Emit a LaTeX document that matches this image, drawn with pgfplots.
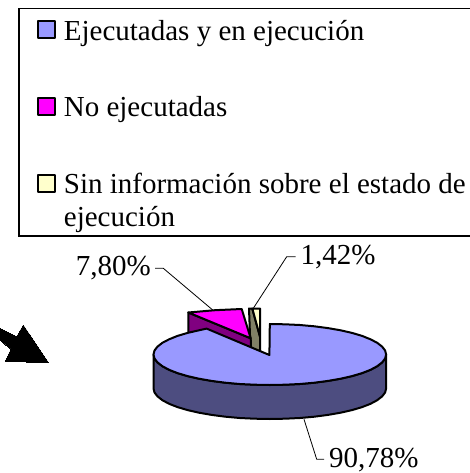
\documentclass[border=0pt]{standalone}
\usepackage{fontspec}
\setmainfont{Liberation Serif}
\usepackage{pgfplots}
\pgfplotsset{compat=1.18}
\definecolor{ejec}{HTML}{9999FF}
\definecolor{ejecside}{HTML}{4D4D80}
\definecolor{noejec}{HTML}{FF00FF}
\definecolor{noejecside}{HTML}{800080}
\definecolor{sininfo}{HTML}{FFFFCC}
\definecolor{sininfoside}{HTML}{808066}
% #2 moves the swatch up or down in its legend row
\newcommand{\legbox}[2]{\draw[fill=#1,line width=2pt,yshift=#2] (0pt,-5pt) rectangle (16.5pt,12.5pt);}
\begin{document}
\begin{tikzpicture}
\path[use as bounding box] (0,0) rectangle (469pt,473pt);
\begin{axis}[
    at={(0,0)},
    anchor=south west,
    scale only axis,
    width=469pt,
    height=473pt,
    xmin=0, xmax=469,
    ymin=0, ymax=473,
    y dir=reverse,
    hide axis,
    clip=false,
    no markers,
    font=\fontsize{29}{33.5}\selectfont,
    legend cell align=left,
    legend style={
        at={(axis cs:18.3,8.3)},
        anchor=north west,
        draw=black,
        line width=1.2pt,
        fill=none,
        inner xsep=18.5pt,
        inner ysep=2pt,
        row sep=43.5pt,
        column sep=6pt,
        font=\fontsize{29}{33.5}\selectfont,
        nodes={inner xsep=2pt, inner ysep=1pt, text depth=},
    },
    every axis plot/.append style={line width=2pt, line join=round, draw=black},
]
% legend
\addlegendimage{legend image code/.code={\legbox{ejec}{-2.5pt}}}
\addlegendentry{\rule[-9pt]{0pt}{37.5pt}Ejecutadas y en ejecución}
\addlegendimage{legend image code/.code={\legbox{noejec}{0pt}}}
\addlegendentry{\rule[-9pt]{0pt}{31pt}No ejecutadas}
\addlegendimage{legend image code/.code={\legbox{sininfo}{15pt}}}
\addlegendentry{\parbox[t]{440pt}{\rule{0pt}{22pt}Sin información sobre el estado de\\ejecución}}

% arrow
\addplot[fill=black, forget plot, line width=0pt] coordinates {
    (0,328.3) (16.7,336.7) (23.3,325) (48.3,362.3) (5,361.7) (11,349.3) (0,340)
} --cycle;

% leader lines
\addplot[line width=0.8pt, forget plot] coordinates {(155,268.3) (163.3,268.3) (212.7,310)};
\addplot[line width=0.8pt, forget plot] coordinates {(295.7,256.7) (286.7,256.7) (253.3,308.3)};
\addplot[line width=0.8pt, forget plot] coordinates {(324,459.3) (316.7,459.3) (304,419.3)};

% Sin informacion, 1,42%
\addplot[fill=sininfoside, forget plot] coordinates {
    (249,308.5) (252.3,308.5) (260,336.7) (260,362) (251,362)
} --cycle;
\addplot[fill=sininfo, forget plot] coordinates {
    (252.3,308.5) (260,308.5) (260,336.7)
} --cycle;

% No ejecutadas, 7,80%
\addplot[fill=noejecside, forget plot] coordinates {
    (188.3,312.5) (250.7,338.3) (251.5,360) (188.3,345)
} --cycle;
\addplot[fill=noejec, forget plot] coordinates {
    (188.3,312.5) (215,310.2) (241.7,309) (250.7,338.3)
} --cycle;

% Ejecutadas, 90,78%: wall
\addplot[fill=ejecside, forget plot] coordinates {
    (386.1,354.5) (385.1,358.5) (382.1,362.4) (377.2,366.2) (370.5,369.8) (362.1,373.1)
    (352.0,376.1) (340.6,378.7) (328.0,380.9) (314.3,382.7) (299.9,384.0) (285.0,384.7)
    (269.8,385.0) (254.6,384.7) (239.7,384.0) (225.3,382.7) (211.6,380.9) (199.0,378.7)
    (187.6,376.1) (177.5,373.1) (169.1,369.8) (162.4,366.2) (157.5,362.4) (154.5,358.5)
    (153.5,354.5)
    (153.5,388.5) (154.5,392.5) (157.5,396.4) (162.4,400.2) (169.1,403.8) (177.5,407.1)
    (187.6,410.1) (199.0,412.7) (211.6,414.9) (225.3,416.7) (239.7,418.0) (254.6,418.7)
    (269.8,419.0) (285.0,418.7) (299.9,418.0) (314.3,416.7) (328.0,414.9) (340.6,412.7)
    (352.0,410.1) (362.1,407.1) (370.5,403.8) (377.2,400.2) (382.1,396.4) (385.1,392.5)
    (386.1,388.5)
} --cycle;
% Ejecutadas: top face
\addplot[fill=ejec, forget plot] coordinates {
    (269.4,355) (269.8,324.0) (285.0,324.3) (299.9,325.0) (314.3,326.3) (328.0,328.1)
    (340.6,330.3) (352.0,332.9) (362.1,335.9) (370.5,339.3) (377.2,342.8) (382.1,346.6)
    (385.1,350.5) (386.1,354.5) (385.1,358.5) (382.1,362.4) (377.2,366.2) (370.5,369.8)
    (362.1,373.1) (352.0,376.1) (340.6,378.7) (328.0,380.9) (314.3,382.7) (299.9,384.0)
    (285.0,384.7) (269.8,385.0) (254.6,384.7) (239.7,384.0) (225.3,382.7) (211.6,380.9)
    (199.0,378.7) (187.6,376.1) (177.5,373.1) (169.1,369.8) (162.4,366.2) (157.5,362.4)
    (154.5,358.5) (153.5,354.5) (154.5,350.5) (157.5,346.6) (162.4,342.8) (169.1,339.3)
    (177.5,335.9) (187.6,332.9) (199.0,330.3) (206.6,328.6)
} --cycle;

% value labels
\node[anchor=east, inner sep=0pt] at (axis cs:151,268) {7,80\%};
\node[anchor=west, inner sep=0pt] at (axis cs:300.5,257) {1,42\%};
\node[anchor=west, inner sep=0pt] at (axis cs:329,460) {90,78\%};
\end{axis}
\end{tikzpicture}
\end{document}
